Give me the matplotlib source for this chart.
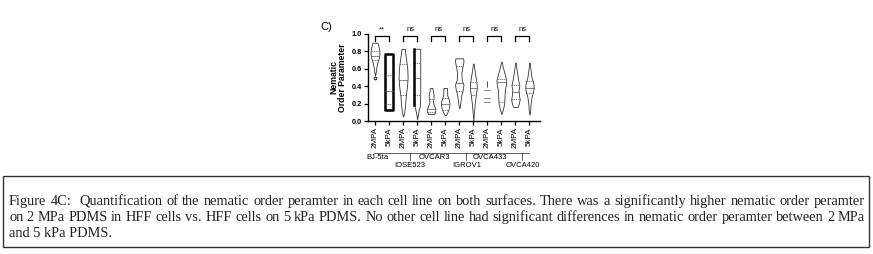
import numpy as np
import matplotlib
matplotlib.use('Agg')
import matplotlib.pyplot as plt
from matplotlib.patches import Rectangle

# dados
labels = ['2MPA', '5kPA'] * 6
groups = ['BJ-5ta', 'IOSE523', 'OVCAR3', 'IGROV1', 'OVCA433', 'OVCA420']
sig = ['**', 'ns', 'ns', 'ns', 'ns', 'ns']

# contorno de cada violino: alturas e meia-largura (em unidades de categoria)
vio_y = [
    [0.52, 0.56, 0.62, 0.68, 0.72, 0.77, 0.82, 0.86, 0.90],
    [0.125, 0.765],
    [0.05, 0.10, 0.20, 0.30, 0.40, 0.50, 0.60, 0.70, 0.78, 0.83],
    [0.02, 0.10, 0.18, 0.30, 0.50, 0.70, 0.83],
    [0.08, 0.10, 0.14, 0.18, 0.22, 0.25, 0.30, 0.34, 0.38],
    [0.07, 0.10, 0.14, 0.18, 0.22, 0.26, 0.30, 0.34, 0.38],
    [0.15, 0.22, 0.30, 0.36, 0.42, 0.47, 0.55, 0.62, 0.68, 0.72],
    [0.00, 0.10, 0.20, 0.30, 0.38, 0.45, 0.55, 0.66],
    [0.39, 0.46],
    [0.08, 0.13, 0.20, 0.28, 0.36, 0.42, 0.47, 0.55, 0.62, 0.68],
    [0.16, 0.20, 0.25, 0.30, 0.35, 0.41, 0.47, 0.55, 0.62, 0.67],
    [0.07, 0.12, 0.20, 0.28, 0.33, 0.38, 0.43, 0.50, 0.58, 0.67],
]
vio_w = [
    [0.0, 0.05, 0.10, 0.18, 0.26, 0.32, 0.30, 0.25, 0.18],
    [0.28, 0.28],
    [0.0, 0.08, 0.15, 0.20, 0.28, 0.32, 0.30, 0.22, 0.15, 0.12],
    [0.0, 0.08, 0.20, 0.22, 0.22, 0.22, 0.22],
    [0.22, 0.28, 0.30, 0.20, 0.12, 0.16, 0.18, 0.12, 0.08],
    [0.05, 0.15, 0.24, 0.30, 0.30, 0.22, 0.14, 0.14, 0.12],
    [0.02, 0.08, 0.15, 0.25, 0.30, 0.18, 0.15, 0.22, 0.30, 0.28],
    [0.0, 0.05, 0.10, 0.18, 0.25, 0.22, 0.12, 0.02],
    [0.0, 0.0],
    [0.0, 0.10, 0.20, 0.22, 0.25, 0.33, 0.35, 0.22, 0.10, 0.02],
    [0.15, 0.25, 0.30, 0.25, 0.22, 0.28, 0.20, 0.12, 0.06, 0.02],
    [0.0, 0.05, 0.08, 0.15, 0.25, 0.30, 0.28, 0.15, 0.08, 0.02],
]
# quartis (Q1, mediana, Q3)
quart = [
    [0.70, 0.75, 0.80],
    [0.20, 0.35, 0.53],
    [0.30, 0.47, 0.65],
    [0.30, 0.49, 0.67],
    [0.10, 0.14, 0.25],
    [0.13, 0.20, 0.27],
    [0.34, 0.44, 0.63],
    [0.30, 0.38, 0.45],
    [0.22, 0.27, 0.36],
    [0.22, 0.45, 0.48],
    [0.25, 0.33, 0.41],
    [0.32, 0.38, 0.46],
]
edge_lw = [0.6, 1.8, 0.6, 0.6, 0.6, 0.6, 0.6, 0.6, 0.6, 0.6, 0.6, 0.6]

caption = [
    "Figure 4C:  Quantification of the nematic order peramter in each cell line on both surfaces. There was a significantly higher nematic order peramter",
    "on 2 MPa PDMS in HFF cells vs. HFF cells on 5 kPa PDMS. No other cell line had significant differences in nematic order peramter between 2 MPa",
    "and 5 kPa PDMS.",
]

plt.rcParams['font.family'] = ['Liberation Sans', 'DejaVu Sans']

W, H = 873, 254
fig = plt.figure(figsize=(W / 100, H / 100), dpi=100)
ax = fig.add_axes([368 / W, (H - 121) / H, 172 / W, 87 / H])

edge = '#333333'
for i in range(len(labels)):
    y = np.array(vio_y[i])
    w = np.array(vio_w[i])
    ax.fill_betweenx(y, i - w, i + w, facecolor='white', edgecolor='black' if edge_lw[i] > 1 else edge,
                     linewidth=edge_lw[i], zorder=2)
    if i == 8:
        # OVCA433 2MPA: so poucos pontos
        for j, q in enumerate(quart[i]):
            ax.plot([i - 0.25, i + 0.2], [q, q], color='#555555', lw=0.5, zorder=3)
        continue
    for j, q in enumerate(quart[i]):
        hw = np.interp(q, y, w)
        ax.plot([i - hw, i + hw], [q, q], color='#555555', lw=0.5,
                ls='-' if j == 1 else (0, (2, 1)), zorder=3)

# barra grossa do IOSE523 5kPA
ax.plot([3 - 0.22, 3 - 0.22], [0.18, 0.83], color='black', lw=1.8, zorder=4)
ax.plot([0], [0.50], 'o', ms=2, mfc='white', mec='black', mew=0.6, zorder=4)

# colchetes de significancia
for k, s in enumerate(sig):
    x0, x1 = 2 * k, 2 * k + 1
    ax.plot([x0, x0, x1, x1], [0.92, 0.977, 0.977, 0.92], color='black', lw=0.9, clip_on=False)
    ax.text((x0 + x1) / 2, 1.046, s, ha='center', va='center', fontsize=5.5, clip_on=False)

ax.set_xlim(-0.5, 11.75)
ax.set_ylim(0, 1.0)
ax.set_yticks(np.arange(0, 1.01, 0.2))
ax.set_yticklabels(['%.1f' % v for v in np.arange(0, 1.01, 0.2)], fontsize=5.3, fontweight='bold')
ax.set_xticks(range(len(labels)))
ax.set_xticklabels(labels, rotation=90, fontsize=5.8)
ax.tick_params(length=3, width=0.9, pad=1.5)
for s in ['top', 'right']:
    ax.spines[s].set_visible(False)
for s in ['left', 'bottom']:
    ax.spines[s].set_linewidth(1.0)
ax.set_ylabel('Nematic\nOrder Parameter', fontsize=6.2, fontweight='bold', labelpad=3, linespacing=1.0)

# nomes dos grupos
tr = ax.get_xaxis_transform()
ax.plot([-0.1, 10.95], [-0.368, -0.368], color='#444444', lw=0.6, transform=tr, clip_on=False)
for k, g in enumerate(groups):
    xc = 2 * k + 0.5
    if k % 2 == 0:
        ax.text(xc - 0.3, -0.414, g, ha='center', va='center', fontsize=5.5, transform=tr)
    else:
        ax.plot([xc, xc], [-0.368, -0.45], color='#444444', lw=0.6, transform=tr, clip_on=False)
        ax.text(xc, -0.515, g, ha='center', va='center', fontsize=5.5, transform=tr)

fig.text(326 / W, 1 - 27 / H, 'C)', fontsize=8, ha='center', va='center')

# legenda da figura com caixa
fig.patches.append(Rectangle((3 / W, (H - 247) / H), 866 / W, 71 / H, transform=fig.transFigure,
                             fill=False, edgecolor='#333333', lw=1.0))
rend = fig.canvas.get_renderer()
line_base = [205, 221, 237]
x_left, x_right = 9, 865
cap_fs = 10.4
for n, line in enumerate(caption):
    yf = 1 - line_base[n] / H
    if n == len(caption) - 1:
        fig.text(x_left / W, yf, line, fontsize=cap_fs, family='Liberation Serif', va='baseline', color='#222222')
        continue
    # justificado
    words = line.split(' ')
    ts = [fig.text(0, yf, wd, fontsize=cap_fs, family='Liberation Serif', va='baseline', color='#222222') for wd in words]
    widths = [t.get_window_extent(rend).width for t in ts]
    gap = (x_right - x_left - sum(widths)) / (len(words) - 1)
    x = x_left
    for t, wd in zip(ts, widths):
        t.set_x(x / W)
        x += wd + gap

fig.savefig('out.png', dpi=100)
